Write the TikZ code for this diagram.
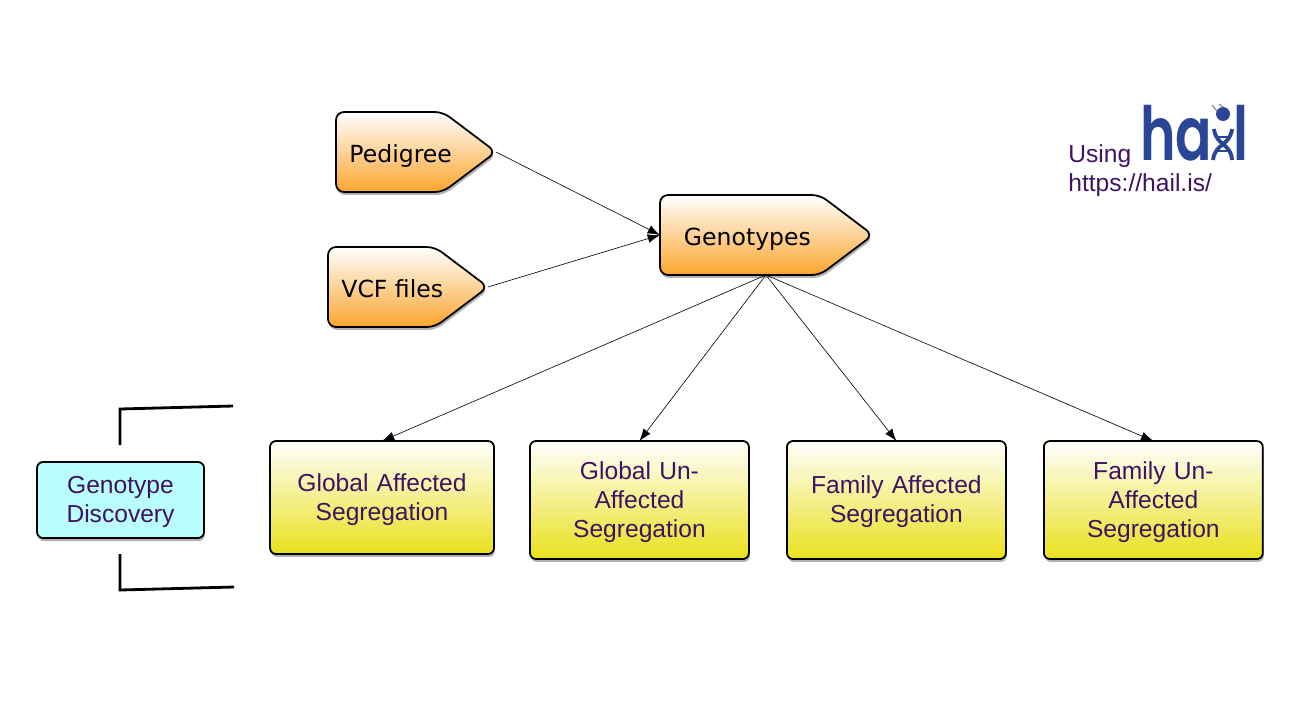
\documentclass[tikz,border=0pt]{standalone}
\usepackage{fontspec}
\usepackage{tikz}
\usetikzlibrary{arrows.meta, positioning, shapes.symbols, shadows}
\setmainfont{Liberation Sans}
\newfontfamily\sigfont{DejaVu Sans}
\newfontfamily\logofont{Poppins SemiBold}
\definecolor{boxtext}{HTML}{3F1264}
\definecolor{hailblue}{HTML}{2B4599}
\definecolor{srcorange}{HTML}{FBA52E}
\definecolor{segyellow}{HTML}{E9E11C}
\definecolor{discblue}{HTML}{B9FFFF}
\newcommand{\sigtext}[2]{\makebox[0pt][l]{\hspace*{#1}\raisebox{-0.2cm}[0pt][0pt]{#2}}}

\begin{document}
\begin{tikzpicture}[
  x=0.02cm, y=-0.02cm,
  boxshadow/.style={drop shadow={shadow xshift=0.02cm, shadow yshift=-0.06cm, opacity=0.3, fill=black}},
  src/.style={signal, signal to=east, signal pointer angle=74, draw=black, line width=1pt, rounded corners=0.16cm,
    top color=white, bottom color=srcorange, boxshadow, inner sep=0pt, outer sep=0pt, anchor=west,
    minimum height=1.6cm, font=\sigfont\fontsize{13.4}{16}\selectfont, text=black},
  seg/.style={rectangle, draw=black, line width=1pt, rounded corners=0.12cm, top color=white, bottom color=segyellow,
    boxshadow, align=center, outer sep=0pt, inner sep=0pt, text width=4.1cm,
    font=\fontsize{14}{16.5}\selectfont, text=boxtext, execute at begin node={\rule{0pt}{12.3pt}}},
  arr/.style={-{Latex[length=7pt,width=5pt]}, line width=0.35pt, black},
  brk/.style={line width=1.6pt, black},
  note/.style={anchor=base west, inner sep=0pt, font=\fontsize{14}{16.5}\selectfont, text=boxtext},
  logo/.style={anchor=base west, inner sep=0pt, font=\logofont\fontsize{42.5}{43}\selectfont, text=hailblue}
]
\useasboundingbox (0,0) rectangle (1300,700);

\node[src, minimum width=3.2cm] (ped) at (336,152) {\sigtext{-0.8cm}{Pedigree}};
\node[src, minimum width=3.2cm] (vcf) at (328,287) {\sigtext{-0.8cm}{VCF files}};
\node[src, minimum width=4.26cm] (geno) at (660,235) {\sigtext{-1.12cm}{Genotypes}};

\node[seg, minimum width=4.48cm, minimum height=2.26cm] (gas) at (382,497.5) {Global Affected\\Segregation};
\node[seg, minimum width=4.38cm, minimum height=2.36cm, right=0.72cm of gas.north east, anchor=north west] (gus) {Global Un-\\Affected\\Segregation};
\node[seg, minimum width=4.38cm, minimum height=2.36cm, right=0.76cm of gus.north east, anchor=north west] (fas) {Family Affected\\Segregation};
\node[seg, minimum width=4.38cm, minimum height=2.36cm, right=0.76cm of fas.north east, anchor=north west] (fus) {Family Un-\\Affected\\Segregation};

\node[seg, text width=3cm, minimum width=3.34cm, minimum height=1.52cm, top color=discblue, bottom color=discblue] (disc) at (120.5,500) {Genotype\\Discovery};

\draw[arr] (ped.east) -- (geno.west);
\draw[arr] (vcf.east) -- (geno.west);
\draw[arr] ([xshift=0.52cm]geno.south) -- (gas.north);
\draw[arr] ([xshift=0.52cm]geno.south) -- (gus.north);
\draw[arr] ([xshift=0.52cm]geno.south) -- (fas.north);
\draw[arr] ([xshift=0.52cm]geno.south) -- (fus.north);

% brackets round the discovery box
\coordinate (ua) at (120,445);
\coordinate (ub) at (120,409);
\coordinate (uc) at (233,406);
\coordinate (la) at (120,554);
\coordinate (lb) at (120,590);
\coordinate (lc) at (234,587);
\draw[brk] (ua) -- (ub) -- (uc);
\draw[brk] (la) -- (lb) -- (lc);

% logo
\node[note] (using) at (1068,162) {Using};
\node[note] (url) at (1068,191) {https://hail.is/};
\node[logo] (hlogo) at (1140,160) {\scalebox{0.72}[1]{ha}};
\node[logo] (llogo) at (1233,160) {\scalebox{0.72}[1]{l}};
\fill[hailblue] (1223,114) circle (7);
\draw[hailblue, line width=2.2pt] (1214,129) .. controls (1216,146) and (1231,143) .. (1232,160);
\draw[hailblue, line width=2.2pt] (1232,129) .. controls (1230,146) and (1215,143) .. (1213,160);
\draw[hailblue, line width=0.7pt] (1218,151) -- (1228,151);
\draw[hailblue, line width=0.7pt] (1218,137) -- (1228,137);
\draw[gray, line width=0.6pt] (1212,105) -- (1217,111);
\draw[gray, line width=0.6pt] (1219,104) -- (1223,107);
\end{tikzpicture}
\end{document}
